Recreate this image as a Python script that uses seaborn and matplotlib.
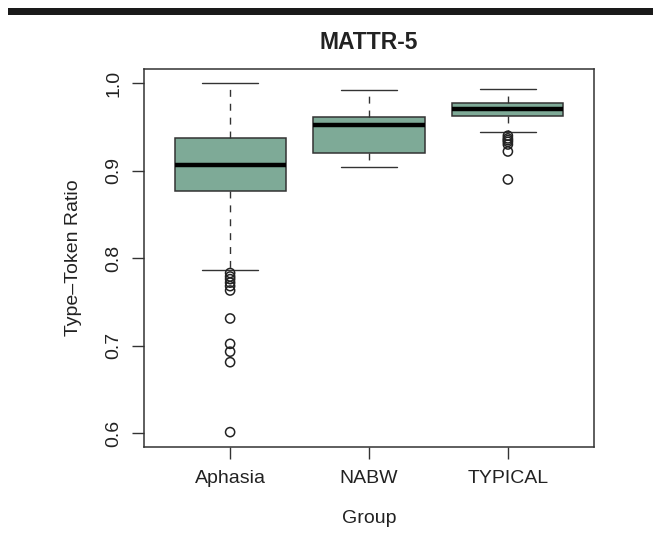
import matplotlib
matplotlib.use("Agg")
import matplotlib.pyplot as plt
from matplotlib.patches import Rectangle
import numpy as np
import pandas as pd
import seaborn as sns

# ---- data ----
groups = ["Aphasia", "NABW", "TYPICAL"]
whisker_low = [0.786, 0.904, 0.944]
q1 = [0.877, 0.920, 0.963]
median = [0.907, 0.952, 0.971]
q3 = [0.937, 0.961, 0.978]
whisker_high = [1.000, 0.992, 0.994]
aphasia_outliers = [0.783, 0.779, 0.776, 0.772, 0.768, 0.763, 0.731, 0.702, 0.693, 0.681, 0.601]
nabw_outliers = []
typical_outliers = [0.940, 0.937, 0.935, 0.933, 0.930, 0.922, 0.890]
y_ticks = [0.6, 0.7, 0.8, 0.9, 1.0]
y_tick_labels = ["0.6", "0.7", "0.8", "0.9", "1.0"]

title = "MATTR-5"
x_label = "Group"
y_label = "Type\u2013Token Ratio"

# ---- styling ----
sns.set_theme(style="white")
plt.rcParams["font.family"] = ["Liberation Sans", "DejaVu Sans"]
text_color = "#222222"
line_color = "#333333"
box_fill = "#7eaa97"

fig = plt.figure(figsize=(6.6, 5.39), dpi=100)
fig.patch.set_facecolor("white")
ax = fig.add_axes([144 / 660, 1 - 447 / 539, 450 / 660, (447 - 69.3) / 539])

# outliers via seaborn on the categorical axis
outlier_groups = (["Aphasia"] * len(aphasia_outliers)
                  + ["NABW"] * len(nabw_outliers)
                  + ["TYPICAL"] * len(typical_outliers))
outlier_vals = aphasia_outliers + nabw_outliers + typical_outliers
df_out = pd.DataFrame({"Group": outlier_groups, "value": outlier_vals})
sns.stripplot(data=df_out, x="Group", y="value", order=groups, jitter=False,
              size=6.6, linewidth=1.1, edgecolor=text_color, color=text_color,
              ax=ax, zorder=4)
for c in ax.collections:
    c.set_facecolor("none")
    c.set_edgecolor(text_color)

# boxes from summary statistics
stats = []
for i, g in enumerate(groups):
    stats.append(dict(label=g, med=median[i], q1=q1[i], q3=q3[i],
                      whislo=whisker_low[i], whishi=whisker_high[i], fliers=[]))
ax.bxp(stats, positions=list(range(len(groups))), widths=0.8,
       patch_artist=True, showfliers=False, manage_ticks=False,
       capwidths=0.4,
       boxprops=dict(facecolor=box_fill, edgecolor=line_color, linewidth=1.1),
       medianprops=dict(color="black", linewidth=3.2, solid_capstyle="butt"),
       whiskerprops=dict(color=line_color, linewidth=1.0, linestyle=(0, (5, 5))),
       capprops=dict(color=line_color, linewidth=1.0))

ax.set_xlim(-0.62, 2.62)
ax.set_ylim(0.584, 1.016)
ax.set_xticks(range(len(groups)))
ax.set_xticklabels(groups, fontsize=14, color=text_color)
ax.set_yticks(y_ticks)
ax.set_yticklabels(y_tick_labels, fontsize=14, color=text_color,
                   rotation=90, va="center")
ax.tick_params(axis="both", which="major", length=8.4, width=1.0,
               color=line_color, direction="out", bottom=True, left=True)
ax.tick_params(axis="x", pad=8)
ax.tick_params(axis="y", pad=7)
ax.set_xlabel("")
ax.set_ylabel("")
for s in ax.spines.values():
    s.set_visible(True)
    s.set_color(line_color)
    s.set_linewidth(1.1)

fig.text(368.5 / 660, 1 - 42.5 / 539, title, ha="center", va="center",
         fontsize=16.5, fontweight="bold", color=text_color)
fig.text(369 / 660, 1 - 523 / 539, x_label, ha="center", va="baseline",
         fontsize=14, color=text_color)
fig.text(74 / 660, 1 - 258 / 539, y_label, ha="center", va="center",
         rotation=90, fontsize=14, color=text_color)

# black rule at the top of the figure
fig.patches.append(Rectangle((8 / 660, 1 - 14.5 / 539), (653 - 8) / 660, 6.5 / 539,
                             transform=fig.transFigure, facecolor="#1a1a1a",
                             edgecolor="none"))

fig.savefig("out.png", dpi=100, facecolor="white")
